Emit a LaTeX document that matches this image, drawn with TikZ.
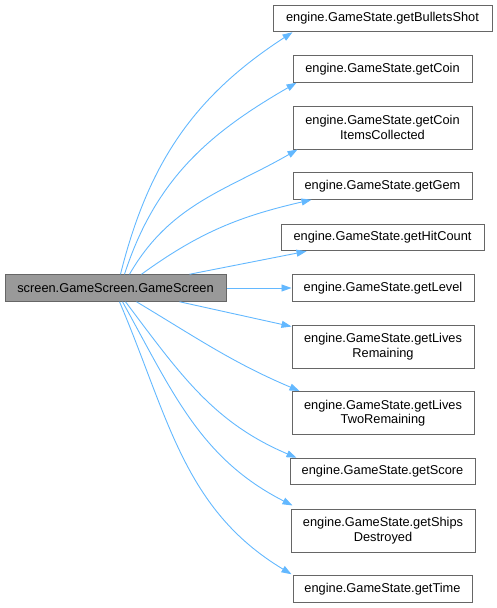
\documentclass[tikz,border=0pt]{standalone}
\usepackage{fontspec}
\setmainfont{Liberation Sans}
\usetikzlibrary{arrows.meta}
\definecolor{edgeblue}{HTML}{63B8FF}
\definecolor{boxgray}{HTML}{666666}
\definecolor{srcfill}{HTML}{999999}
\begin{document}
\begin{tikzpicture}[x=1pt,y=1pt,
  box/.style={draw=boxgray,line width=1pt,fill=white,inner sep=0pt,align=center,
    font=\fontsize{12.8}{14.5}\selectfont,minimum height=26.5pt},
  box2/.style={box,minimum height=43pt},
  srcbox/.style={box,fill=srcfill},
  edge/.style={draw=edgeblue,line width=0.9pt,-{Triangle[length=10pt,width=7pt]}}]
\useasboundingbox (0,0) rectangle (497,-608);

\node[srcbox,minimum width=221pt] (src) at (115.5,-288) {screen.GameScreen.GameScreen};

\node[box,minimum width=219pt] (t1) at (382.5,-18.5) {engine.GameState.getBulletsShot};
\node[box,minimum width=179pt] (t2) at (382.5,-69) {engine.GameState.getCoin};
\node[box2,minimum width=179pt] (t3) at (382.5,-127.5) {engine.GameState.getCoin\\ItemsCollected};
\node[box,minimum width=179pt] (t4) at (382.5,-186) {engine.GameState.getGem};
\node[box,minimum width=203pt] (t5) at (382.5,-237.5) {engine.GameState.getHitCount};
\node[box,minimum width=182pt] (t6) at (383,-288) {engine.GameState.getLevel};
\node[box2,minimum width=182pt] (t7) at (383,-346.5) {engine.GameState.getLives\\Remaining};
\node[box2,minimum width=182pt] (t8) at (383,-413) {engine.GameState.getLives\\TwoRemaining};
\node[box,minimum width=185pt] (t9) at (382.5,-471.5) {engine.GameState.getScore};
\node[box2,minimum width=184pt] (t10) at (383,-530.5) {engine.GameState.getShips\\Destroyed};
\node[box,minimum width=179pt] (t11) at (382.5,-589) {engine.GameState.getTime};

% upward edges from top of source
\draw[edge] ([xshift=116pt]src.north west) to[out=76,in=213] ([xshift=20pt]t1.south west);
\draw[edge] ([xshift=120pt]src.north west) to[out=72,in=210] ([xshift=4pt]t2.south west);
\draw[edge] ([xshift=125pt]src.north west) to[out=60,in=210] ([xshift=5pt]t3.south west);
\draw[edge] ([xshift=137pt]src.north west) to[out=36,in=193] ([xshift=19pt]t4.south west);
\draw[edge] ([xshift=185pt]src.north west) -- ([xshift=26pt]t5.south west);
\draw[edge] (src.east) -- (t6.west);
% downward edges from bottom of source
\draw[edge] ([xshift=175pt]src.south west) -- ([yshift=-2pt]t7.north west);
\draw[edge] ([xshift=132pt]src.south west) to[out=-31,in=157] ([xshift=8pt]t8.north west);
\draw[edge] ([xshift=121pt]src.south west) to[out=-53,in=157] ([xshift=7pt]t9.north west);
\draw[edge] ([xshift=118pt]src.south west) to[out=-61,in=153] ([xshift=2pt,yshift=3pt]t10.north west);
\draw[edge] ([xshift=115pt]src.south west) to[out=-67,in=149] ([xshift=-1pt,yshift=1pt]t11.north west);
\end{tikzpicture}
\end{document}
